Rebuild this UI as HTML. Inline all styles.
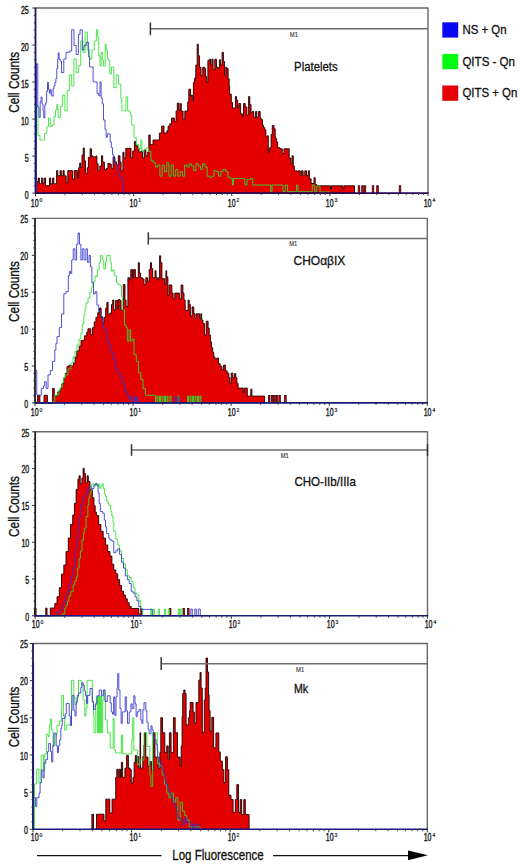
<!DOCTYPE html><html><head><meta charset="utf-8"><style>html,body{margin:0;padding:0;background:#fff;}svg{display:block;}text{font-family:"Liberation Sans",sans-serif;}</style></head><body>
<svg width="520" height="866" viewBox="0 0 520 866">
<rect width="520" height="866" fill="#fff"/>
<path d="M35.5,181.5H38.2V178H39.4V183.8H41.6V178H42.8V183H44.3V178H45.5V185.6H49.5V178H50.7V183.8H52.6V178H53.8V183.8H56.6V170.6H57.8V175.8H60.1V170.6H61.3V175.8H63V170.6H64.2V175.8H66.2V182.7H67.8V170.6H72.4V179.2H74.2V170.6H77.4V178H78.6V167.7H79.7V163H80.9V167.7H82V155H83.2V148H84.3V160.8H85.5V173.4H87.2V167.7H88.4V157.3H90.1V148.8H91.5V155.8H92.9V156.9H95.8V156H96.9V163.8H98.1V170.8H99.8V166H101.5V155.8H102.7V162H104.4V169.6H106.1V168.5H107.9V163.3H109.6V164H111.3V168.4H113.1V156.9H114.8V162H116.5V165H118.3V155.8H120V162H121.1V170.8H122.9V152.3H124V158H125.8V148.3H131V158H132.7V151.1H134.4V141.3H135.6V145.4H137.3V147.7H139V152.3H140.8V151H142.5V158H144.2V150H145.9V155.8H147.7V152H148.8V135H150.2V144.6H153V140H159.4V133H161.7V126.1H164V133H166.9V130.7H168.1V126.1H169.8V123.8H171.5V118.1H174.4V121.5H176.1V111.1H177.3V103.1H179V110H180.2V103.6H181.3V111.1H183.1V119.2H184.8V111.1H187.7V101.9H188.8V89.2H190.6V96.1H191.7V95H192.3V100.8H193.4V82.3H194.6V78H195.8V65H197.2V44.2H198.3V55.8H199.5V67.3H201V75.4H202.7V67.3H204.4V68.4H205.6V76.5H206.7V82.3H207.9V60.4H209.6V59.2H210.5V65H211.9V59.2H213.1V69.6H214.8V59.2H216.5V67.3H218.3V68.4H219.4V59.8H220.6V65H222.1V52.3H223.4V61.5H224.6V75.4H225.8V67.3H226.9V68.4H228.1V78.8H229.2V85.8H229.6V94.2H231.3V102.3H232.5V108H235.4V96.5H236.5V100H237.7V108H238.8V103.5H240.6V113.8H242.3V116.1H243.5V103.5H245.2V106.9H246.9V115H248.6V96.5H249.8V104.6H251V112.7H252.1V111.5H253.8V117.3H255.6V111.5H256.7V117.3H258.4V111.5H260.2V118.5H261.3V119.6H262.5V125.4H263.6V127.7H264.8V130H265.9V136.9H267.1V135.8H268.3V152.3H269.6V147.7H271.1V134.6H272.3V125.4H274V128.8H275.2V135.8H275.4V138.5H276.5V141.9H277.7V147.7H280V148.8H282.3V153.5H284V148.8H289.2V158.1H291V163.8H292.1V155.8H293.3V166.1H294.4V170.8H297.3V171.9H298.4V170.8H300.2V175.4H301.3V170.8H303.1V175.4H304.8V170.8H306.5V175.4H308.3V170.8H309.4V178.8H311.1V183.5H314V177.7H315.2V184.6H316.9V185.8H330.5V185.8H330.5V189H331.5V185.8H342.8V185.8H342.8V189H343.8V185.8H354V185.8H354.5V193.5V193.1H35.5Z" fill="#e30000" stroke="#1e0000" stroke-width="0.9" stroke-linejoin="miter"/>
<rect x="358.2" y="185.7" width="1.6" height="7.4" fill="#e30000" stroke="#1e0000" stroke-width="0.7"/>
<rect x="361.7" y="185.7" width="1.6" height="7.4" fill="#e30000" stroke="#1e0000" stroke-width="0.7"/>
<rect x="364.2" y="185.7" width="1.6" height="7.4" fill="#e30000" stroke="#1e0000" stroke-width="0.7"/>
<rect x="372.2" y="185.7" width="1.6" height="7.4" fill="#e30000" stroke="#1e0000" stroke-width="0.7"/>
<rect x="376.7" y="185.7" width="1.6" height="7.4" fill="#e30000" stroke="#1e0000" stroke-width="0.7"/>
<rect x="399.2" y="185.7" width="1.6" height="7.4" fill="#e30000" stroke="#1e0000" stroke-width="0.7"/>
<path d="M36.5,193.5H36.5V105H37.4V105H37.9V135.6H40V140H42.4V140H44.6V133.4H46.9V126.6H48.5V118.3H50.3V126.6H52V125H54V116.5H55.5V110H56.8V104.5H57.7V110H58.2V117.6H60.4V106.4H62.7V95H64.9V110.9H67.2V90.6H69.4V74.8H71.7V86H73.9V59H76.2V72.6H78.4V65.8H80.7V41H82.9V52.3H85.2V32H87.4V50H89.7V59H91.9V50H94.2V41H96.4V29.8H97.7V37H98.8V55.8H100V66.1H101.1V52.3H102.3V60H103.4V66.1H105.2V44.2H106.3V50H107.5V58H108V60H109.8V73.8H111.5V67H113.8V87.7H116.1V75H118.5V84.2H120.8V98.1H121.9V110.8H126V96.9H127.7V110.8H129.4V112H130.6V115.4H131.7V125H134V137.9H136.3V144.6H138.5V149H140.8V140H141.9V151.4H144.1V149H146.4V148H148.6V151.4H150.9V160.4H153.2V162.7H155.4V167H157.7V165H159.9V176.2H162.2V165H164.4V171.7H166.7V162.7H168.9V176.2H171.2V165H173.4V176.2H175.7V169.4H177.9V176.2H180.2V171.7H182.4V176.2H184.7V165H186.9V167H189.2V163.8H191.4V166H193.7V170.5H195.9V163.8H198.2V166H200.4V169.4H202.7V163.8H205V167H207.2V176.2H209.5V177.3H211.7V176.2H214V170.5H216.2V171.7H218.5V176.2H220.7V171.7H223V169.4H225.6V171.7H227.9V177.3H230.1V178.4H232.4V185H233.5V178.4H242.5V178.4H244.8V185H247V179.6H250.4V178.4H252.7V185H268V185H270.7V191.7H272V185H281V185H283V191.7H285.3V185H287.6V191.7H296V191.7H296.6V185H298V191.7H310V191.7H312.3V185H314.6V191.7H316.8V186H320V192H330V193.5" fill="none" stroke="#2fe02f" stroke-width="1" stroke-opacity="0.85"/>
<path d="M36.5,193.5H36.5V63.8H37.8V63.8H37.8V107H39V117.4H40.2V101.7H41.1V97H42V104H43V111H43.8V118H44.8V105H45.7V102.6H46.6V91.5H47.5V82.3H48.5V89.7H49.4V93.4H50.3V89.7H51.2V95.2H52.2V96.2H53.1V88.8H54V86H54.9V82.3H55.9V78.6H56.8V68.5H57.7V59.2H58.2V52.8H59.1V59.2H60.4V61.3H61.5V72.6H63.8V59H66V52.3H69.4V51H71.7V29.8H74V45.5H76.2V54.5H78.4V34.3H80V29.8H82.3V50H84V45.5H86.3V42.2H88.6V56.8H89.6V67H91.3V67H93.1V81.9H96V81.9H97.1V93.5H98.8V95.8H100V81.9H101.1V98.1H102.3V103.8H103.5V120H105V129.2H106.1V137.3H107.3V133.8H109V134H110.2V141.9H111.3V147.7H112.5V154.6H113.6V159.2H114.8V163.8H116.5V165H117.7V170.8H118.8V175.4H120V177.7H122.3V180H123.4V190.4H124V193.1" fill="none" stroke="#3434cc" stroke-width="1" stroke-opacity="0.85"/>
<path d="M35.5,8H428V193.1" fill="none" stroke="#6a6a6a" stroke-width="1.4"/>
<line x1="35.5" y1="7.5" x2="35.5" y2="193.9" stroke="#15156a" stroke-width="1.8"/>
<line x1="35.5" y1="193.1" x2="428.7" y2="193.1" stroke="#2a0a5a" stroke-width="1.6"/>
<line x1="32.3" y1="193.1" x2="35.5" y2="193.1" stroke="#333" stroke-width="1"/>
<text x="28.7" y="199.4" font-size="10" text-anchor="end" textLength="3.9" lengthAdjust="spacingAndGlyphs" fill="#1a1a1a" stroke="#1a1a1a" stroke-width="0.4">0</text>
<line x1="33.9" y1="185.7" x2="35.5" y2="185.7" stroke="#333" stroke-width="1"/>
<line x1="33.9" y1="178.29" x2="35.5" y2="178.29" stroke="#333" stroke-width="1"/>
<line x1="33.9" y1="170.89" x2="35.5" y2="170.89" stroke="#333" stroke-width="1"/>
<line x1="33.9" y1="163.48" x2="35.5" y2="163.48" stroke="#333" stroke-width="1"/>
<line x1="32.3" y1="156.08" x2="35.5" y2="156.08" stroke="#333" stroke-width="1"/>
<text x="28.7" y="162.38" font-size="10" text-anchor="end" textLength="3.9" lengthAdjust="spacingAndGlyphs" fill="#1a1a1a" stroke="#1a1a1a" stroke-width="0.4">5</text>
<line x1="33.9" y1="148.68" x2="35.5" y2="148.68" stroke="#333" stroke-width="1"/>
<line x1="33.9" y1="141.27" x2="35.5" y2="141.27" stroke="#333" stroke-width="1"/>
<line x1="33.9" y1="133.87" x2="35.5" y2="133.87" stroke="#333" stroke-width="1"/>
<line x1="33.9" y1="126.46" x2="35.5" y2="126.46" stroke="#333" stroke-width="1"/>
<line x1="32.3" y1="119.06" x2="35.5" y2="119.06" stroke="#333" stroke-width="1"/>
<text x="28.7" y="125.36" font-size="10" text-anchor="end" textLength="7.8" lengthAdjust="spacingAndGlyphs" fill="#1a1a1a" stroke="#1a1a1a" stroke-width="0.4">10</text>
<line x1="33.9" y1="111.66" x2="35.5" y2="111.66" stroke="#333" stroke-width="1"/>
<line x1="33.9" y1="104.25" x2="35.5" y2="104.25" stroke="#333" stroke-width="1"/>
<line x1="33.9" y1="96.85" x2="35.5" y2="96.85" stroke="#333" stroke-width="1"/>
<line x1="33.9" y1="89.44" x2="35.5" y2="89.44" stroke="#333" stroke-width="1"/>
<line x1="32.3" y1="82.04" x2="35.5" y2="82.04" stroke="#333" stroke-width="1"/>
<text x="28.7" y="88.34" font-size="10" text-anchor="end" textLength="7.8" lengthAdjust="spacingAndGlyphs" fill="#1a1a1a" stroke="#1a1a1a" stroke-width="0.4">15</text>
<line x1="33.9" y1="74.64" x2="35.5" y2="74.64" stroke="#333" stroke-width="1"/>
<line x1="33.9" y1="67.23" x2="35.5" y2="67.23" stroke="#333" stroke-width="1"/>
<line x1="33.9" y1="59.83" x2="35.5" y2="59.83" stroke="#333" stroke-width="1"/>
<line x1="33.9" y1="52.42" x2="35.5" y2="52.42" stroke="#333" stroke-width="1"/>
<line x1="32.3" y1="45.02" x2="35.5" y2="45.02" stroke="#333" stroke-width="1"/>
<text x="28.7" y="51.32" font-size="10" text-anchor="end" textLength="7.8" lengthAdjust="spacingAndGlyphs" fill="#1a1a1a" stroke="#1a1a1a" stroke-width="0.4">20</text>
<line x1="33.9" y1="37.62" x2="35.5" y2="37.62" stroke="#333" stroke-width="1"/>
<line x1="33.9" y1="30.21" x2="35.5" y2="30.21" stroke="#333" stroke-width="1"/>
<line x1="33.9" y1="22.81" x2="35.5" y2="22.81" stroke="#333" stroke-width="1"/>
<line x1="33.9" y1="15.4" x2="35.5" y2="15.4" stroke="#333" stroke-width="1"/>
<line x1="32.3" y1="8" x2="35.5" y2="8" stroke="#333" stroke-width="1"/>
<text x="28.7" y="14.3" font-size="10" text-anchor="end" textLength="7.8" lengthAdjust="spacingAndGlyphs" fill="#1a1a1a" stroke="#1a1a1a" stroke-width="0.4">25</text>
<line x1="65.04" y1="193.1" x2="65.04" y2="195.1" stroke="#333" stroke-width="0.9"/>
<line x1="82.32" y1="193.1" x2="82.32" y2="195.1" stroke="#333" stroke-width="0.9"/>
<line x1="94.58" y1="193.1" x2="94.58" y2="195.1" stroke="#333" stroke-width="0.9"/>
<line x1="104.09" y1="193.1" x2="104.09" y2="195.1" stroke="#333" stroke-width="0.9"/>
<line x1="111.86" y1="193.1" x2="111.86" y2="195.1" stroke="#333" stroke-width="0.9"/>
<line x1="118.43" y1="193.1" x2="118.43" y2="195.1" stroke="#333" stroke-width="0.9"/>
<line x1="124.12" y1="193.1" x2="124.12" y2="195.1" stroke="#333" stroke-width="0.9"/>
<line x1="129.14" y1="193.1" x2="129.14" y2="195.1" stroke="#333" stroke-width="0.9"/>
<line x1="163.16" y1="193.1" x2="163.16" y2="195.1" stroke="#333" stroke-width="0.9"/>
<line x1="180.44" y1="193.1" x2="180.44" y2="195.1" stroke="#333" stroke-width="0.9"/>
<line x1="192.7" y1="193.1" x2="192.7" y2="195.1" stroke="#333" stroke-width="0.9"/>
<line x1="202.21" y1="193.1" x2="202.21" y2="195.1" stroke="#333" stroke-width="0.9"/>
<line x1="209.98" y1="193.1" x2="209.98" y2="195.1" stroke="#333" stroke-width="0.9"/>
<line x1="216.55" y1="193.1" x2="216.55" y2="195.1" stroke="#333" stroke-width="0.9"/>
<line x1="222.24" y1="193.1" x2="222.24" y2="195.1" stroke="#333" stroke-width="0.9"/>
<line x1="227.26" y1="193.1" x2="227.26" y2="195.1" stroke="#333" stroke-width="0.9"/>
<line x1="261.29" y1="193.1" x2="261.29" y2="195.1" stroke="#333" stroke-width="0.9"/>
<line x1="278.57" y1="193.1" x2="278.57" y2="195.1" stroke="#333" stroke-width="0.9"/>
<line x1="290.83" y1="193.1" x2="290.83" y2="195.1" stroke="#333" stroke-width="0.9"/>
<line x1="300.34" y1="193.1" x2="300.34" y2="195.1" stroke="#333" stroke-width="0.9"/>
<line x1="308.11" y1="193.1" x2="308.11" y2="195.1" stroke="#333" stroke-width="0.9"/>
<line x1="314.68" y1="193.1" x2="314.68" y2="195.1" stroke="#333" stroke-width="0.9"/>
<line x1="320.37" y1="193.1" x2="320.37" y2="195.1" stroke="#333" stroke-width="0.9"/>
<line x1="325.39" y1="193.1" x2="325.39" y2="195.1" stroke="#333" stroke-width="0.9"/>
<line x1="359.41" y1="193.1" x2="359.41" y2="195.1" stroke="#333" stroke-width="0.9"/>
<line x1="376.69" y1="193.1" x2="376.69" y2="195.1" stroke="#333" stroke-width="0.9"/>
<line x1="388.95" y1="193.1" x2="388.95" y2="195.1" stroke="#333" stroke-width="0.9"/>
<line x1="398.46" y1="193.1" x2="398.46" y2="195.1" stroke="#333" stroke-width="0.9"/>
<line x1="406.23" y1="193.1" x2="406.23" y2="195.1" stroke="#333" stroke-width="0.9"/>
<line x1="412.8" y1="193.1" x2="412.8" y2="195.1" stroke="#333" stroke-width="0.9"/>
<line x1="418.49" y1="193.1" x2="418.49" y2="195.1" stroke="#333" stroke-width="0.9"/>
<line x1="423.51" y1="193.1" x2="423.51" y2="195.1" stroke="#333" stroke-width="0.9"/>
<line x1="35.5" y1="193.1" x2="35.5" y2="196.1" stroke="#333" stroke-width="1"/>
<text x="30.8" y="206.8" font-size="10" textLength="7.8" lengthAdjust="spacingAndGlyphs" fill="#1a1a1a" stroke="#1a1a1a" stroke-width="0.4">10</text>
<text x="39.5" y="202.4" font-size="5" fill="#222" stroke="#222" stroke-width="0.2">0</text>
<line x1="133.62" y1="193.1" x2="133.62" y2="196.1" stroke="#333" stroke-width="1"/>
<text x="129.6" y="206.8" font-size="10" textLength="7.8" lengthAdjust="spacingAndGlyphs" fill="#1a1a1a" stroke="#1a1a1a" stroke-width="0.4">10</text>
<text x="138.3" y="202.4" font-size="5" fill="#222" stroke="#222" stroke-width="0.2">1</text>
<line x1="231.75" y1="193.1" x2="231.75" y2="196.1" stroke="#333" stroke-width="1"/>
<text x="227.8" y="206.8" font-size="10" textLength="7.8" lengthAdjust="spacingAndGlyphs" fill="#1a1a1a" stroke="#1a1a1a" stroke-width="0.4">10</text>
<text x="236.5" y="202.4" font-size="5" fill="#222" stroke="#222" stroke-width="0.2">2</text>
<line x1="329.88" y1="193.1" x2="329.88" y2="196.1" stroke="#333" stroke-width="1"/>
<text x="325.8" y="206.8" font-size="10" textLength="7.8" lengthAdjust="spacingAndGlyphs" fill="#1a1a1a" stroke="#1a1a1a" stroke-width="0.4">10</text>
<text x="334.5" y="202.4" font-size="5" fill="#222" stroke="#222" stroke-width="0.2">3</text>
<line x1="428" y1="193.1" x2="428" y2="196.1" stroke="#333" stroke-width="1"/>
<text x="423.7" y="206.8" font-size="10" textLength="7.8" lengthAdjust="spacingAndGlyphs" fill="#1a1a1a" stroke="#1a1a1a" stroke-width="0.4">10</text>
<text x="432.4" y="202.4" font-size="5" fill="#222" stroke="#222" stroke-width="0.2">4</text>
<text transform="translate(19.2,82.24) rotate(-90)" font-size="14.6" text-anchor="middle" textLength="60.8" lengthAdjust="spacingAndGlyphs" fill="#111" stroke="#111" stroke-width="0.35">Cell Counts</text>
<line x1="150.4" y1="28.8" x2="428" y2="28.8" stroke="#6e6e6e" stroke-width="1.5"/>
<line x1="150.4" y1="22.5" x2="150.4" y2="35.2" stroke="#333" stroke-width="1.5"/>
<text x="289.8" y="37.4" font-size="7.6" textLength="8.2" lengthAdjust="spacingAndGlyphs" fill="#333" stroke="#333" stroke-width="0.15">M1</text>
<text x="294.1" y="70.9" font-size="13.2" textLength="43.5" lengthAdjust="spacingAndGlyphs" fill="#111" stroke="#111" stroke-width="0.3">Platelets</text>
<path d="M36.5,403.5H37.6V395.3H39.9V403.5H44V395.3H47.4V403.5H52.6V388.4H54.3V396.4H56.1V395.3H57.8V391.8H60.1V388.4H61.8V383.8H63.6V378H65.3V373.4H67V366.5H68.8V365.3H71.1V365.9H73.4V363H75.1V357.2H76.8V351.5H77.5V350.8H79.2V346.1H81V340.4H84.4V335.8H86.7V332.3H87.9V328.8H90.8V334.6H92.5V327.7H94.2V321.9H95.9V317.3H97.7V312.7H99.4V308.1H101.1V317.3H102.9V323.1H104V317.3H105.7V308.1H106.9V302.3H108.1V315H109.8V313H111.5V304.6H112.7V300H113.8V310H115.6V300.6H117.8V309.6H118.1V299.6H120V300.6H121V310H123.3V284.6H125V300H126.1V306.5H127.9V277.7H129.6V280H130.8V269.6H132.5V277.7H133.6V269.6H135.4V277.7H138.3V262.7H139.4V273.1H140.6V277.7H142.3V279H144V284.6H145.8V277.7H147.5V281.1H149.2V269.6H150.4V262.7H151.5V268.5H152.7V277.7H155V270.8H156.1V277.7H157.3V280H158.4V277.7H159.6V255.8H160.7V262.7H161.9V278.8H164.8V284.6H165.9V270.8H166.7V276.9H167.9V295.4H169V285H171.9V293.1H173.1V298.8H174.8V293.1H179.4V298.8H181.1V285H182.9V293.1H184V300H185.2V310.4H188.1V300H189.2V304.6H190.4V316.1H192.1V306.9H193.8V313.8H195V318.4H196.1V313.8H199.6V318.4H200.8V313.8H201.7V320H202.9V323.5H204.6V335H206.3V321.2H208.1V328.1H209.2V335H210.4V341.9H211.5V347.7H212.7V352.3H213.8V356.9H215V359.2H216.7V358.1H218.5V363.8H220.2V366.1H221.9V369.6H223.6V365H225.4V370.8H227.1V373.1H228.8V377.7H230V383.4H231.2V373.1H232.9V377.7H234.6V373.6H235.8V377.7H236.9V383.4H238.1V388.1H243.3V392.7H244.4V388.1H247.3V396.1H250.8V389.2H251.9V396.1H264.6V403.5V402.9H36.5Z" fill="#e30000" stroke="#1e0000" stroke-width="0.9" stroke-linejoin="miter"/>
<rect x="268.4" y="395.52" width="1.6" height="7.38" fill="#e30000" stroke="#1e0000" stroke-width="0.7"/>
<rect x="271.3" y="395.52" width="1.6" height="7.38" fill="#e30000" stroke="#1e0000" stroke-width="0.7"/>
<rect x="273.6" y="395.52" width="1.6" height="7.38" fill="#e30000" stroke="#1e0000" stroke-width="0.7"/>
<rect x="275.9" y="395.52" width="1.6" height="7.38" fill="#e30000" stroke="#1e0000" stroke-width="0.7"/>
<rect x="278.8" y="395.52" width="1.6" height="7.38" fill="#e30000" stroke="#1e0000" stroke-width="0.7"/>
<rect x="284.6" y="395.52" width="1.6" height="7.38" fill="#e30000" stroke="#1e0000" stroke-width="0.7"/>
<path d="M35,402.9H52V402H54.8V395.2H56.1V395.3H57.8V394H59V389.5H60.7V387.2H62.4V382.6H63.6V378H65.3V374.5H66.5V375H68V369H71V363H73V357H75V351H77V345H79V339H80.8V333H82.3V324H83.8V315H85V309H86V303H88V298H89.8V292.5H91.3V287H92.8V282H95V276H96.9V276.9H97.3V270H99.2V263H100.4V255.6H102.5V260H103.8V268.8H105.5V262H106.7V255.6H109V255.6H110.2V262H111.3V271.2H112.5V270H114.2V275.8H116.5V282.7H118.1V284.6H120.4V285.8H121.5V296.1H122.7V310H124.5V325H126.1V327.6H127.3V341.1H129V329.9H130.6V341.1H132.2V339H134V354.6H136.3V361.4H138.5V372.7H140.8V379.4H143V388.4H145.3V395.2H154.3V395.5H155.5V402.9H157V396H158V402.9H159.5V396H160.5V402.9H162V396H163V402.9H164.5V396H165.5V402.9H167V396H168V402.9H170V396H171V402.9H178V396H179V402.9H187.5V396H188.5V402.9H190V396H191V402.9H192.5V396H193.5V402.9H195V396H196V402.9H197.5V396H198.5V402.9H200V396H201V402.9H225V402.9" fill="none" stroke="#2fe02f" stroke-width="1" stroke-opacity="0.85"/>
<path d="M35,403.5H35V370.4H36V370.4H36.8V395.2H39V395.2H41.3V388.4H43.5V386H44.6V381.7H46.2V388.4H48V374.9H50.3V370.4H52.5V361.4H54.8V350.1H55.9V343.4H57V336.6H59.3V327.6H61.5V314.1H63.8V293.8H66V291.6H68.3V275.8H69.4V271.3H70.5V273.5H71.7V260H73.2V248.8H75V260H76.6V244.3H78V233H79.5V244.3H80.9V260H82.3V248.8H84V260H85.9V248.8H87.4V262.3H89V255.5H90.4V266.8H91.9V282.6H93.5V293.8H95.3V291.6H96.9V305H98.7V311.8H101V316.4H102.5V327.6H104.3V329.9H106.6V341.1H108.8V345.6H111V352.4H113.3V359.1H115.6V368.2H117.8V372.7H120V377.2H122.3V383.9H124.6V390.7H126.8V395.2H129.1V399.7H131V396H132V402.9H134V397H135V402.9H136.5V397H137.5V402.9H175V397H176V402.9H178V397H179V402.9H190V402.9" fill="none" stroke="#3434cc" stroke-width="1" stroke-opacity="0.85"/>
<path d="M35,218.4H427.3V402.9" fill="none" stroke="#6a6a6a" stroke-width="1.4"/>
<line x1="35" y1="217.9" x2="35" y2="403.7" stroke="#222" stroke-width="1.8"/>
<line x1="35" y1="402.9" x2="428" y2="402.9" stroke="#1a1a7a" stroke-width="1.6"/>
<line x1="31.8" y1="402.9" x2="35" y2="402.9" stroke="#333" stroke-width="1"/>
<text x="28.1" y="407.5" font-size="10" text-anchor="end" textLength="3.9" lengthAdjust="spacingAndGlyphs" fill="#1a1a1a" stroke="#1a1a1a" stroke-width="0.4">0</text>
<line x1="33.4" y1="395.52" x2="35" y2="395.52" stroke="#333" stroke-width="1"/>
<line x1="33.4" y1="388.14" x2="35" y2="388.14" stroke="#333" stroke-width="1"/>
<line x1="33.4" y1="380.76" x2="35" y2="380.76" stroke="#333" stroke-width="1"/>
<line x1="33.4" y1="373.38" x2="35" y2="373.38" stroke="#333" stroke-width="1"/>
<line x1="31.8" y1="366" x2="35" y2="366" stroke="#333" stroke-width="1"/>
<text x="28.1" y="370.6" font-size="10" text-anchor="end" textLength="3.9" lengthAdjust="spacingAndGlyphs" fill="#1a1a1a" stroke="#1a1a1a" stroke-width="0.4">5</text>
<line x1="33.4" y1="358.62" x2="35" y2="358.62" stroke="#333" stroke-width="1"/>
<line x1="33.4" y1="351.24" x2="35" y2="351.24" stroke="#333" stroke-width="1"/>
<line x1="33.4" y1="343.86" x2="35" y2="343.86" stroke="#333" stroke-width="1"/>
<line x1="33.4" y1="336.48" x2="35" y2="336.48" stroke="#333" stroke-width="1"/>
<line x1="31.8" y1="329.1" x2="35" y2="329.1" stroke="#333" stroke-width="1"/>
<text x="28.1" y="333.7" font-size="10" text-anchor="end" textLength="7.8" lengthAdjust="spacingAndGlyphs" fill="#1a1a1a" stroke="#1a1a1a" stroke-width="0.4">10</text>
<line x1="33.4" y1="321.72" x2="35" y2="321.72" stroke="#333" stroke-width="1"/>
<line x1="33.4" y1="314.34" x2="35" y2="314.34" stroke="#333" stroke-width="1"/>
<line x1="33.4" y1="306.96" x2="35" y2="306.96" stroke="#333" stroke-width="1"/>
<line x1="33.4" y1="299.58" x2="35" y2="299.58" stroke="#333" stroke-width="1"/>
<line x1="31.8" y1="292.2" x2="35" y2="292.2" stroke="#333" stroke-width="1"/>
<text x="28.1" y="296.8" font-size="10" text-anchor="end" textLength="7.8" lengthAdjust="spacingAndGlyphs" fill="#1a1a1a" stroke="#1a1a1a" stroke-width="0.4">15</text>
<line x1="33.4" y1="284.82" x2="35" y2="284.82" stroke="#333" stroke-width="1"/>
<line x1="33.4" y1="277.44" x2="35" y2="277.44" stroke="#333" stroke-width="1"/>
<line x1="33.4" y1="270.06" x2="35" y2="270.06" stroke="#333" stroke-width="1"/>
<line x1="33.4" y1="262.68" x2="35" y2="262.68" stroke="#333" stroke-width="1"/>
<line x1="31.8" y1="255.3" x2="35" y2="255.3" stroke="#333" stroke-width="1"/>
<text x="28.1" y="259.9" font-size="10" text-anchor="end" textLength="7.8" lengthAdjust="spacingAndGlyphs" fill="#1a1a1a" stroke="#1a1a1a" stroke-width="0.4">20</text>
<line x1="33.4" y1="247.92" x2="35" y2="247.92" stroke="#333" stroke-width="1"/>
<line x1="33.4" y1="240.54" x2="35" y2="240.54" stroke="#333" stroke-width="1"/>
<line x1="33.4" y1="233.16" x2="35" y2="233.16" stroke="#333" stroke-width="1"/>
<line x1="33.4" y1="225.78" x2="35" y2="225.78" stroke="#333" stroke-width="1"/>
<line x1="31.8" y1="218.4" x2="35" y2="218.4" stroke="#333" stroke-width="1"/>
<text x="28.1" y="223" font-size="10" text-anchor="end" textLength="7.8" lengthAdjust="spacingAndGlyphs" fill="#1a1a1a" stroke="#1a1a1a" stroke-width="0.4">25</text>
<line x1="64.52" y1="402.9" x2="64.52" y2="404.9" stroke="#333" stroke-width="0.9"/>
<line x1="81.79" y1="402.9" x2="81.79" y2="404.9" stroke="#333" stroke-width="0.9"/>
<line x1="94.05" y1="402.9" x2="94.05" y2="404.9" stroke="#333" stroke-width="0.9"/>
<line x1="103.55" y1="402.9" x2="103.55" y2="404.9" stroke="#333" stroke-width="0.9"/>
<line x1="111.32" y1="402.9" x2="111.32" y2="404.9" stroke="#333" stroke-width="0.9"/>
<line x1="117.88" y1="402.9" x2="117.88" y2="404.9" stroke="#333" stroke-width="0.9"/>
<line x1="123.57" y1="402.9" x2="123.57" y2="404.9" stroke="#333" stroke-width="0.9"/>
<line x1="128.59" y1="402.9" x2="128.59" y2="404.9" stroke="#333" stroke-width="0.9"/>
<line x1="162.6" y1="402.9" x2="162.6" y2="404.9" stroke="#333" stroke-width="0.9"/>
<line x1="179.87" y1="402.9" x2="179.87" y2="404.9" stroke="#333" stroke-width="0.9"/>
<line x1="192.12" y1="402.9" x2="192.12" y2="404.9" stroke="#333" stroke-width="0.9"/>
<line x1="201.63" y1="402.9" x2="201.63" y2="404.9" stroke="#333" stroke-width="0.9"/>
<line x1="209.39" y1="402.9" x2="209.39" y2="404.9" stroke="#333" stroke-width="0.9"/>
<line x1="215.96" y1="402.9" x2="215.96" y2="404.9" stroke="#333" stroke-width="0.9"/>
<line x1="221.65" y1="402.9" x2="221.65" y2="404.9" stroke="#333" stroke-width="0.9"/>
<line x1="226.66" y1="402.9" x2="226.66" y2="404.9" stroke="#333" stroke-width="0.9"/>
<line x1="260.67" y1="402.9" x2="260.67" y2="404.9" stroke="#333" stroke-width="0.9"/>
<line x1="277.94" y1="402.9" x2="277.94" y2="404.9" stroke="#333" stroke-width="0.9"/>
<line x1="290.2" y1="402.9" x2="290.2" y2="404.9" stroke="#333" stroke-width="0.9"/>
<line x1="299.7" y1="402.9" x2="299.7" y2="404.9" stroke="#333" stroke-width="0.9"/>
<line x1="307.47" y1="402.9" x2="307.47" y2="404.9" stroke="#333" stroke-width="0.9"/>
<line x1="314.03" y1="402.9" x2="314.03" y2="404.9" stroke="#333" stroke-width="0.9"/>
<line x1="319.72" y1="402.9" x2="319.72" y2="404.9" stroke="#333" stroke-width="0.9"/>
<line x1="324.74" y1="402.9" x2="324.74" y2="404.9" stroke="#333" stroke-width="0.9"/>
<line x1="358.75" y1="402.9" x2="358.75" y2="404.9" stroke="#333" stroke-width="0.9"/>
<line x1="376.02" y1="402.9" x2="376.02" y2="404.9" stroke="#333" stroke-width="0.9"/>
<line x1="388.27" y1="402.9" x2="388.27" y2="404.9" stroke="#333" stroke-width="0.9"/>
<line x1="397.78" y1="402.9" x2="397.78" y2="404.9" stroke="#333" stroke-width="0.9"/>
<line x1="405.54" y1="402.9" x2="405.54" y2="404.9" stroke="#333" stroke-width="0.9"/>
<line x1="412.11" y1="402.9" x2="412.11" y2="404.9" stroke="#333" stroke-width="0.9"/>
<line x1="417.8" y1="402.9" x2="417.8" y2="404.9" stroke="#333" stroke-width="0.9"/>
<line x1="422.81" y1="402.9" x2="422.81" y2="404.9" stroke="#333" stroke-width="0.9"/>
<line x1="35" y1="402.9" x2="35" y2="405.9" stroke="#333" stroke-width="1"/>
<text x="30.8" y="415.9" font-size="10" textLength="7.8" lengthAdjust="spacingAndGlyphs" fill="#1a1a1a" stroke="#1a1a1a" stroke-width="0.4">10</text>
<text x="39.5" y="411.5" font-size="5" fill="#222" stroke="#222" stroke-width="0.2">0</text>
<line x1="133.07" y1="402.9" x2="133.07" y2="405.9" stroke="#333" stroke-width="1"/>
<text x="129.6" y="415.9" font-size="10" textLength="7.8" lengthAdjust="spacingAndGlyphs" fill="#1a1a1a" stroke="#1a1a1a" stroke-width="0.4">10</text>
<text x="138.3" y="411.5" font-size="5" fill="#222" stroke="#222" stroke-width="0.2">1</text>
<line x1="231.15" y1="402.9" x2="231.15" y2="405.9" stroke="#333" stroke-width="1"/>
<text x="227.8" y="415.9" font-size="10" textLength="7.8" lengthAdjust="spacingAndGlyphs" fill="#1a1a1a" stroke="#1a1a1a" stroke-width="0.4">10</text>
<text x="236.5" y="411.5" font-size="5" fill="#222" stroke="#222" stroke-width="0.2">2</text>
<line x1="329.23" y1="402.9" x2="329.23" y2="405.9" stroke="#333" stroke-width="1"/>
<text x="325.8" y="415.9" font-size="10" textLength="7.8" lengthAdjust="spacingAndGlyphs" fill="#1a1a1a" stroke="#1a1a1a" stroke-width="0.4">10</text>
<text x="334.5" y="411.5" font-size="5" fill="#222" stroke="#222" stroke-width="0.2">3</text>
<line x1="427.3" y1="402.9" x2="427.3" y2="405.9" stroke="#333" stroke-width="1"/>
<text x="423.7" y="415.9" font-size="10" textLength="7.8" lengthAdjust="spacingAndGlyphs" fill="#1a1a1a" stroke="#1a1a1a" stroke-width="0.4">10</text>
<text x="432.4" y="411.5" font-size="5" fill="#222" stroke="#222" stroke-width="0.2">4</text>
<text transform="translate(19.2,291.5) rotate(-90)" font-size="14.6" text-anchor="middle" textLength="60.8" lengthAdjust="spacingAndGlyphs" fill="#111" stroke="#111" stroke-width="0.35">Cell Counts</text>
<line x1="148.3" y1="238.5" x2="427.3" y2="238.5" stroke="#6e6e6e" stroke-width="1.5"/>
<line x1="148.3" y1="232.3" x2="148.3" y2="244.6" stroke="#333" stroke-width="1.5"/>
<text x="289.2" y="246.4" font-size="7.6" textLength="8.2" lengthAdjust="spacingAndGlyphs" fill="#333" stroke="#333" stroke-width="0.15">M1</text>
<text x="293.5" y="265.3" font-size="13.2" textLength="51.8" lengthAdjust="spacingAndGlyphs" fill="#111" stroke="#111" stroke-width="0.3">CHOαβIX</text>
<path d="M34,615.8H34.5V608H35.5V608H36V615.8H45.3V615.8H45.8V608H46.5V608H47V615.8H50V615.8H50.3V608H52.5V608H54.8V603.4H57V596.7H59.3V587.7H61.5V574.1H63.8V565.1H66V551.6H68.3V538.1H70.5V524.6H72.7V515H74.4V503.4H76.1V489.6H77.9V479.2H79V475.8H80.2V483.8H81.9V478.1H83.1V468.3H84.2V473.5H85.4V482.7H87.1V475.8H88.3V481.5H90V489.6H92.3V497.7H94V505.8H95.2V512H96.4V515.6H98.7V524.6H100.9V531.4H103.2V538.1H105.5V544.9H107.7V551.6H110V556.1H111.9V564.2H113.8V570H115.8V573.8H117.7V579.6H119.6V585.4H121.5V591.2H123.5V595H125.4V598.8H127.3V602.7H129.2V606.5H131.2V608.5H136.9V608.5H138.8V614.2H140.3V614.2H140.8V608.5H141.5V608.5H142V615.8V615.8H34Z" fill="#e30000" stroke="#1e0000" stroke-width="0.9" stroke-linejoin="miter"/>
<rect x="169.4" y="608.44" width="1.6" height="7.36" fill="#e30000" stroke="#1e0000" stroke-width="0.7"/>
<rect x="183" y="608.44" width="1.6" height="7.36" fill="#e30000" stroke="#1e0000" stroke-width="0.7"/>
<rect x="187.5" y="608.44" width="1.6" height="7.36" fill="#e30000" stroke="#1e0000" stroke-width="0.7"/>
<path d="M55,615.8H60.5V615.8H62V613.9H64.8V608.3H66V605H67.5V601H69V596H70.8V591.7H73.1V585.2H74.7V581H76.3V577H77.7V568H79.1V558.5H80.4V551.1H82V540H83.5V533H84.4V528.1H86.1V516.5H87.9V505H88.8V497.7H90V493.1H91.1V485H92.3V483.8H94V486.1H95.2V483.8H96.9V486.1H98.7V483.8H99.8V488.4H100.9V486.1H102.1V483.8H103.3V488.4H104.4V494.2H105.6V496.5H106.7V501.1H107.9V503.4H109V505.8H110.8V511.5H111.9V516H113V523H113.8V531.5H115.8V539.2H117.7V545H119.6V550.8H121.5V558.5H123.5V564.2H125.4V570H127.3V575.8H129.2V577.7H131.2V581.5H133.1V587.3H135V593.1H136.9V595H138.8V600.8H140.8V608.5H142.7V615.8H150.7V609H151.9V615.8H153.2V609H154.4V615.8H158.2V609H159.4V615.8H164.4V609H165.6V615.8H168.2V609H169.4V615.8H178.2V609H179.4V615.8H180.7V609H181.9V615.8H190V615.8" fill="none" stroke="#2fe02f" stroke-width="1" stroke-opacity="0.85"/>
<path d="M35,615.8H56V615.8H56.9V612H60.2V609.3H62.2V605H64.3V601H65.7V596H67.1V591.7H69V584H70.8V577H72.6V568H74.5V558.5H75.7V549H76.8V540H78V530H79.2V516.5H81V505H83.1V497.7H84.8V495.4H86.5V490.8H88.3V491H89.4V486.1H91.1V488.4H94V485H95.8V483.3H96.9V485H98.1V493.1H99.2V503.4H100.4V511.5H102.7V513.3H104.3V520.1H105.5V527H106.6V533.6H108.8V538.1H110V540H111.9V541.2H113.8V552.7H115.8V550.8H117.7V548.8H119.6V554.6H121.5V562.3H123.5V568.1H125.4V575.8H127.3V579.6H129.2V583.5H131.2V591.2H133.1V593.1H135V596.9H136.9V600.8H138.8V606.5H140.8V609.4H150.4V609.4H152.3V615.8H190.5V615.8H190.8V609H192V609H192.3V615.8H194.5V615.8H194.8V609H196V609H196.3V615.8H198V615.8H198.3V609H200V609H200.3V615.8H210V615.8" fill="none" stroke="#3434cc" stroke-width="1" stroke-opacity="0.85"/>
<path d="M35.2,431.8H427.5V615.8" fill="none" stroke="#6a6a6a" stroke-width="1.4"/>
<line x1="35.2" y1="431.3" x2="35.2" y2="616.6" stroke="#222" stroke-width="1.8"/>
<line x1="35.2" y1="615.8" x2="428.2" y2="615.8" stroke="#1a1a7a" stroke-width="1.6"/>
<line x1="32" y1="615.8" x2="35.2" y2="615.8" stroke="#333" stroke-width="1"/>
<text x="29.2" y="620.6" font-size="10" text-anchor="end" textLength="3.9" lengthAdjust="spacingAndGlyphs" fill="#1a1a1a" stroke="#1a1a1a" stroke-width="0.4">0</text>
<line x1="33.6" y1="608.44" x2="35.2" y2="608.44" stroke="#333" stroke-width="1"/>
<line x1="33.6" y1="601.08" x2="35.2" y2="601.08" stroke="#333" stroke-width="1"/>
<line x1="33.6" y1="593.72" x2="35.2" y2="593.72" stroke="#333" stroke-width="1"/>
<line x1="33.6" y1="586.36" x2="35.2" y2="586.36" stroke="#333" stroke-width="1"/>
<line x1="32" y1="579" x2="35.2" y2="579" stroke="#333" stroke-width="1"/>
<text x="29.2" y="583.8" font-size="10" text-anchor="end" textLength="3.9" lengthAdjust="spacingAndGlyphs" fill="#1a1a1a" stroke="#1a1a1a" stroke-width="0.4">5</text>
<line x1="33.6" y1="571.64" x2="35.2" y2="571.64" stroke="#333" stroke-width="1"/>
<line x1="33.6" y1="564.28" x2="35.2" y2="564.28" stroke="#333" stroke-width="1"/>
<line x1="33.6" y1="556.92" x2="35.2" y2="556.92" stroke="#333" stroke-width="1"/>
<line x1="33.6" y1="549.56" x2="35.2" y2="549.56" stroke="#333" stroke-width="1"/>
<line x1="32" y1="542.2" x2="35.2" y2="542.2" stroke="#333" stroke-width="1"/>
<text x="29.2" y="547" font-size="10" text-anchor="end" textLength="7.8" lengthAdjust="spacingAndGlyphs" fill="#1a1a1a" stroke="#1a1a1a" stroke-width="0.4">10</text>
<line x1="33.6" y1="534.84" x2="35.2" y2="534.84" stroke="#333" stroke-width="1"/>
<line x1="33.6" y1="527.48" x2="35.2" y2="527.48" stroke="#333" stroke-width="1"/>
<line x1="33.6" y1="520.12" x2="35.2" y2="520.12" stroke="#333" stroke-width="1"/>
<line x1="33.6" y1="512.76" x2="35.2" y2="512.76" stroke="#333" stroke-width="1"/>
<line x1="32" y1="505.4" x2="35.2" y2="505.4" stroke="#333" stroke-width="1"/>
<text x="29.2" y="510.2" font-size="10" text-anchor="end" textLength="7.8" lengthAdjust="spacingAndGlyphs" fill="#1a1a1a" stroke="#1a1a1a" stroke-width="0.4">15</text>
<line x1="33.6" y1="498.04" x2="35.2" y2="498.04" stroke="#333" stroke-width="1"/>
<line x1="33.6" y1="490.68" x2="35.2" y2="490.68" stroke="#333" stroke-width="1"/>
<line x1="33.6" y1="483.32" x2="35.2" y2="483.32" stroke="#333" stroke-width="1"/>
<line x1="33.6" y1="475.96" x2="35.2" y2="475.96" stroke="#333" stroke-width="1"/>
<line x1="32" y1="468.6" x2="35.2" y2="468.6" stroke="#333" stroke-width="1"/>
<text x="29.2" y="473.4" font-size="10" text-anchor="end" textLength="7.8" lengthAdjust="spacingAndGlyphs" fill="#1a1a1a" stroke="#1a1a1a" stroke-width="0.4">20</text>
<line x1="33.6" y1="461.24" x2="35.2" y2="461.24" stroke="#333" stroke-width="1"/>
<line x1="33.6" y1="453.88" x2="35.2" y2="453.88" stroke="#333" stroke-width="1"/>
<line x1="33.6" y1="446.52" x2="35.2" y2="446.52" stroke="#333" stroke-width="1"/>
<line x1="33.6" y1="439.16" x2="35.2" y2="439.16" stroke="#333" stroke-width="1"/>
<line x1="32" y1="431.8" x2="35.2" y2="431.8" stroke="#333" stroke-width="1"/>
<text x="29.2" y="436.6" font-size="10" text-anchor="end" textLength="7.8" lengthAdjust="spacingAndGlyphs" fill="#1a1a1a" stroke="#1a1a1a" stroke-width="0.4">25</text>
<line x1="64.72" y1="615.8" x2="64.72" y2="617.8" stroke="#333" stroke-width="0.9"/>
<line x1="81.99" y1="615.8" x2="81.99" y2="617.8" stroke="#333" stroke-width="0.9"/>
<line x1="94.25" y1="615.8" x2="94.25" y2="617.8" stroke="#333" stroke-width="0.9"/>
<line x1="103.75" y1="615.8" x2="103.75" y2="617.8" stroke="#333" stroke-width="0.9"/>
<line x1="111.52" y1="615.8" x2="111.52" y2="617.8" stroke="#333" stroke-width="0.9"/>
<line x1="118.08" y1="615.8" x2="118.08" y2="617.8" stroke="#333" stroke-width="0.9"/>
<line x1="123.77" y1="615.8" x2="123.77" y2="617.8" stroke="#333" stroke-width="0.9"/>
<line x1="128.79" y1="615.8" x2="128.79" y2="617.8" stroke="#333" stroke-width="0.9"/>
<line x1="162.8" y1="615.8" x2="162.8" y2="617.8" stroke="#333" stroke-width="0.9"/>
<line x1="180.07" y1="615.8" x2="180.07" y2="617.8" stroke="#333" stroke-width="0.9"/>
<line x1="192.32" y1="615.8" x2="192.32" y2="617.8" stroke="#333" stroke-width="0.9"/>
<line x1="201.83" y1="615.8" x2="201.83" y2="617.8" stroke="#333" stroke-width="0.9"/>
<line x1="209.59" y1="615.8" x2="209.59" y2="617.8" stroke="#333" stroke-width="0.9"/>
<line x1="216.16" y1="615.8" x2="216.16" y2="617.8" stroke="#333" stroke-width="0.9"/>
<line x1="221.85" y1="615.8" x2="221.85" y2="617.8" stroke="#333" stroke-width="0.9"/>
<line x1="226.86" y1="615.8" x2="226.86" y2="617.8" stroke="#333" stroke-width="0.9"/>
<line x1="260.87" y1="615.8" x2="260.87" y2="617.8" stroke="#333" stroke-width="0.9"/>
<line x1="278.14" y1="615.8" x2="278.14" y2="617.8" stroke="#333" stroke-width="0.9"/>
<line x1="290.4" y1="615.8" x2="290.4" y2="617.8" stroke="#333" stroke-width="0.9"/>
<line x1="299.9" y1="615.8" x2="299.9" y2="617.8" stroke="#333" stroke-width="0.9"/>
<line x1="307.67" y1="615.8" x2="307.67" y2="617.8" stroke="#333" stroke-width="0.9"/>
<line x1="314.23" y1="615.8" x2="314.23" y2="617.8" stroke="#333" stroke-width="0.9"/>
<line x1="319.92" y1="615.8" x2="319.92" y2="617.8" stroke="#333" stroke-width="0.9"/>
<line x1="324.94" y1="615.8" x2="324.94" y2="617.8" stroke="#333" stroke-width="0.9"/>
<line x1="358.95" y1="615.8" x2="358.95" y2="617.8" stroke="#333" stroke-width="0.9"/>
<line x1="376.22" y1="615.8" x2="376.22" y2="617.8" stroke="#333" stroke-width="0.9"/>
<line x1="388.47" y1="615.8" x2="388.47" y2="617.8" stroke="#333" stroke-width="0.9"/>
<line x1="397.98" y1="615.8" x2="397.98" y2="617.8" stroke="#333" stroke-width="0.9"/>
<line x1="405.74" y1="615.8" x2="405.74" y2="617.8" stroke="#333" stroke-width="0.9"/>
<line x1="412.31" y1="615.8" x2="412.31" y2="617.8" stroke="#333" stroke-width="0.9"/>
<line x1="418" y1="615.8" x2="418" y2="617.8" stroke="#333" stroke-width="0.9"/>
<line x1="423.01" y1="615.8" x2="423.01" y2="617.8" stroke="#333" stroke-width="0.9"/>
<line x1="35.2" y1="615.8" x2="35.2" y2="618.8" stroke="#333" stroke-width="1"/>
<text x="31.8" y="628.2" font-size="10" textLength="7.8" lengthAdjust="spacingAndGlyphs" fill="#1a1a1a" stroke="#1a1a1a" stroke-width="0.4">10</text>
<text x="40.5" y="623.8" font-size="5" fill="#222" stroke="#222" stroke-width="0.2">0</text>
<line x1="133.28" y1="615.8" x2="133.28" y2="618.8" stroke="#333" stroke-width="1"/>
<text x="130.6" y="628.2" font-size="10" textLength="7.8" lengthAdjust="spacingAndGlyphs" fill="#1a1a1a" stroke="#1a1a1a" stroke-width="0.4">10</text>
<text x="139.3" y="623.8" font-size="5" fill="#222" stroke="#222" stroke-width="0.2">1</text>
<line x1="231.35" y1="615.8" x2="231.35" y2="618.8" stroke="#333" stroke-width="1"/>
<text x="228.8" y="628.2" font-size="10" textLength="7.8" lengthAdjust="spacingAndGlyphs" fill="#1a1a1a" stroke="#1a1a1a" stroke-width="0.4">10</text>
<text x="237.5" y="623.8" font-size="5" fill="#222" stroke="#222" stroke-width="0.2">2</text>
<line x1="329.43" y1="615.8" x2="329.43" y2="618.8" stroke="#333" stroke-width="1"/>
<text x="326.8" y="628.2" font-size="10" textLength="7.8" lengthAdjust="spacingAndGlyphs" fill="#1a1a1a" stroke="#1a1a1a" stroke-width="0.4">10</text>
<text x="335.5" y="623.8" font-size="5" fill="#222" stroke="#222" stroke-width="0.2">3</text>
<line x1="427.5" y1="615.8" x2="427.5" y2="618.8" stroke="#333" stroke-width="1"/>
<text x="424.7" y="628.2" font-size="10" textLength="7.8" lengthAdjust="spacingAndGlyphs" fill="#1a1a1a" stroke="#1a1a1a" stroke-width="0.4">10</text>
<text x="433.4" y="623.8" font-size="5" fill="#222" stroke="#222" stroke-width="0.2">4</text>
<text transform="translate(19.2,506.5) rotate(-90)" font-size="14.6" text-anchor="middle" textLength="60.8" lengthAdjust="spacingAndGlyphs" fill="#111" stroke="#111" stroke-width="0.35">Cell Counts</text>
<line x1="131.5" y1="450" x2="427.5" y2="450" stroke="#6e6e6e" stroke-width="1.5"/>
<line x1="131.5" y1="444.2" x2="131.5" y2="455.8" stroke="#333" stroke-width="1.5"/>
<line x1="427.5" y1="444.2" x2="427.5" y2="455.8" stroke="#333" stroke-width="1.5"/>
<text x="280.7" y="457.6" font-size="7.6" textLength="8.2" lengthAdjust="spacingAndGlyphs" fill="#333" stroke="#333" stroke-width="0.15">M1</text>
<text x="294.4" y="486.4" font-size="13.2" textLength="61.6" lengthAdjust="spacingAndGlyphs" fill="#111" stroke="#111" stroke-width="0.3">CHO-IIb/IIIa</text>
<path d="M91.5,829.5H91.9V814.2H93.5V829.5H96.5V814.2H104V821H105.8V799.2H109.8V813H112.1V799.2H115.7V777.3H116.8V769.2H118.2V777.3H119.1V769.2H120.5V777.3H121.4V762.3H122.6V777.3H124.9V768.1H126.6V755.4H128.4V768.1H130.1V769.8H131.3V783.1H133V777.3H134.1V762.3H135.3V755.4H136.4V762.3H137.6V756.5H138.7V768.1H140V732.7H140.6V768.1H141.6V768.1H142.8V756.5H143.9V745H144.5V732.7H145.8V757.1H148V766.1H149.8V761.6H151.6V770.6H153.3V732.7H155V757.1H158.3V768.4H159.9V752.6H160.8V717.7H162.5V732.7H164.8V752.6H166.7V745.9H168.2V759.4H169.4V732.7H171.1V752.6H173.4V717.7H175.2V732.7H177.5V757.1H180.2V766.1H181.2V745.9H182.1V716.5H182.7V693.5H183.8V690H185V693.5H186.1V724.6H187.3V725.8H188.4V717.7H189.6V710.8H190.2V702.5H193.1V712.1H194.4V723.3H196V702.5H198.8V680H200V672.5H201.1V688H202.3V732.3H204.3V700H205.2V688H206V658H207.5V672H208.6V695H209.1V710.4H210.1V731.1H211.8V717.3H213.6V747.8H215.9V732.9H218.8V751.9H220.3V761.1H222.4V769.7H223.9V782.5H225.6V756.8H227.4V769.7H228.8V795.3H231V799.6H233.1V812.4H235.3V799.6H236.8V784.6H238.5V812.4H240.2V799.6H241.7V814.5H243.8V799.6H245.3V814.5H248.5V814.5H249.1V829.5V829.3H91.5Z" fill="#e30000" stroke="#1e0000" stroke-width="0.9" stroke-linejoin="miter"/>
<path d="M34.5,829.5H34.5V784H36.6V769H38.9V782.7H41.2V755H43.5V771H44.7V753.8H46.4V734.2H48.1V736.5H49.3V725H50.3V718.8H51.4V730.1H53V745.9H54.8V734.6H57V725.6H59.3V721.1H61.5V707.6H61.7V695.4H63V695.4H63.5V716.1H64.6V730H66.3V725H71.5V680.4H72.7V680.4H73.8V697.7H75V704.6H76.7V697.7H78.5V680.4H81.3V685H83.1V700H84.8V716.1H86V708H87.1V680.4H92.3V702.3H93.5V716H94V732.7H95.8V704.6H96.9V696.5H97.5V732.7H98.5V696H99.5V732.7H100.5V696H101.5V732.7H102.7V700H103.8V690H105V700H105.5V720H107.3V732.7H110.2V748H113.1V718.8H114.2V750H115.7V753H121.4V735H122.6V754H131.8V740H132.7V717.7H133.8V750H137.6V764.6H140V760H144V732.7H146.9V746.5H149.8V775.1H150.9V786.4H152.7V732.7H156.1V732.7H157.3V750H157.7V763.9H159.9V766.1H162.2V775.1H164.4V784.1H166.7V793.2H168.9V797.7H171.2V793.2H173.4V802.2H175.7V797.7H177.9V820.2H180.2V802.2H182.4V811.2H184.7V815.7H186.9V820.2H189.2V827H200V829.5" fill="none" stroke="#2fe02f" stroke-width="1" stroke-opacity="0.85"/>
<path d="M33,829.5H33V663H33.6V663H33.6V797.7H35.6V806.7H36.8V797.7H39V793.2H40.1V782.7H41.2V770H43V778H44.1V763.1H45.8V759.6H47.6V751.5H48.7V743.5H50.5V751.5H51.6V761.9H52.8V745.8H53.9V733.1H56.2V745.8H57.4V752.7H58.5V745.8H59.7V740H60.8V728.5H61.7V725.4H62.3V718.4H65.2V713.8H66.3V703.4H69.2V716.1H70.4V725.4H71.5V710.4H72.1V695.4H73.8V710.4H75V716.1H76.1V702.3H77.3V695.4H78.5V693.1H80.8V687.3H81.9V682.7H83.1V685H84.2V690.8H85.4V695.4H86.5V703.4H87.7V695.4H90V688.5H92.3V701.5H93.5V709.6H95.2V703.8H96.9V695.8H99.2V690H101.5V695.8H103.3V690H105V701.5H107.3V695.8H110.2V702.7H111.3V711.9H112.5V714.2H113.6V696.9H114.8V715.4H116V696.9H117.1V688H117.7V673.5H118.8V690H120V708.5H121.1V723.4H122.3V711.9H125.2V696.9H126.3V710.8H127.5V723.4H129.2V711.9H130.9V703.8H132.1V708.5H133.8V695.8H135V703.8H136.1V716.5H137.3V711.9H139V709.6H140.8V720H141.9V723.4H142.9V709.6H144V702.7H145.8V710.8H146.9V722.3H148.1V729.2H149.2V733.8H151V725.8H152.1V730H153.3V736.1H154.4V739.6H156.1V744.2H157.3V750H157.7V757.1H159.2V761.6H161V766.1H162.8V770.6H164.4V779.6H166V784.1H167.8V788.6H169.6V793.2H171.2V797.7H172.7V802.2H174.5V806.7H176.4V811.2H177.9V817.9H180.2V820.2H182.4V824.7H184.7V817.9H186.9V822.4H190.3V829.5H192.6V824H194V829.5H196V824H199.3V829.5H210V829.5" fill="none" stroke="#3434cc" stroke-width="1" stroke-opacity="0.85"/>
<path d="M33,643.5H427.3V829.3" fill="none" stroke="#6a6a6a" stroke-width="1.4"/>
<line x1="33" y1="643" x2="33" y2="830.1" stroke="#15156a" stroke-width="1.8"/>
<line x1="33" y1="829.3" x2="428" y2="829.3" stroke="#1a1a7a" stroke-width="1.6"/>
<line x1="29.8" y1="829.3" x2="33" y2="829.3" stroke="#333" stroke-width="1"/>
<text x="27.9" y="834.1" font-size="10" text-anchor="end" textLength="3.9" lengthAdjust="spacingAndGlyphs" fill="#1a1a1a" stroke="#1a1a1a" stroke-width="0.4">0</text>
<line x1="31.4" y1="821.87" x2="33" y2="821.87" stroke="#333" stroke-width="1"/>
<line x1="31.4" y1="814.44" x2="33" y2="814.44" stroke="#333" stroke-width="1"/>
<line x1="31.4" y1="807" x2="33" y2="807" stroke="#333" stroke-width="1"/>
<line x1="31.4" y1="799.57" x2="33" y2="799.57" stroke="#333" stroke-width="1"/>
<line x1="29.8" y1="792.14" x2="33" y2="792.14" stroke="#333" stroke-width="1"/>
<text x="27.9" y="796.94" font-size="10" text-anchor="end" textLength="3.9" lengthAdjust="spacingAndGlyphs" fill="#1a1a1a" stroke="#1a1a1a" stroke-width="0.4">5</text>
<line x1="31.4" y1="784.71" x2="33" y2="784.71" stroke="#333" stroke-width="1"/>
<line x1="31.4" y1="777.28" x2="33" y2="777.28" stroke="#333" stroke-width="1"/>
<line x1="31.4" y1="769.84" x2="33" y2="769.84" stroke="#333" stroke-width="1"/>
<line x1="31.4" y1="762.41" x2="33" y2="762.41" stroke="#333" stroke-width="1"/>
<line x1="29.8" y1="754.98" x2="33" y2="754.98" stroke="#333" stroke-width="1"/>
<text x="27.9" y="759.78" font-size="10" text-anchor="end" textLength="7.8" lengthAdjust="spacingAndGlyphs" fill="#1a1a1a" stroke="#1a1a1a" stroke-width="0.4">10</text>
<line x1="31.4" y1="747.55" x2="33" y2="747.55" stroke="#333" stroke-width="1"/>
<line x1="31.4" y1="740.12" x2="33" y2="740.12" stroke="#333" stroke-width="1"/>
<line x1="31.4" y1="732.68" x2="33" y2="732.68" stroke="#333" stroke-width="1"/>
<line x1="31.4" y1="725.25" x2="33" y2="725.25" stroke="#333" stroke-width="1"/>
<line x1="29.8" y1="717.82" x2="33" y2="717.82" stroke="#333" stroke-width="1"/>
<text x="27.9" y="722.62" font-size="10" text-anchor="end" textLength="7.8" lengthAdjust="spacingAndGlyphs" fill="#1a1a1a" stroke="#1a1a1a" stroke-width="0.4">15</text>
<line x1="31.4" y1="710.39" x2="33" y2="710.39" stroke="#333" stroke-width="1"/>
<line x1="31.4" y1="702.96" x2="33" y2="702.96" stroke="#333" stroke-width="1"/>
<line x1="31.4" y1="695.52" x2="33" y2="695.52" stroke="#333" stroke-width="1"/>
<line x1="31.4" y1="688.09" x2="33" y2="688.09" stroke="#333" stroke-width="1"/>
<line x1="29.8" y1="680.66" x2="33" y2="680.66" stroke="#333" stroke-width="1"/>
<text x="27.9" y="685.46" font-size="10" text-anchor="end" textLength="7.8" lengthAdjust="spacingAndGlyphs" fill="#1a1a1a" stroke="#1a1a1a" stroke-width="0.4">20</text>
<line x1="31.4" y1="673.23" x2="33" y2="673.23" stroke="#333" stroke-width="1"/>
<line x1="31.4" y1="665.8" x2="33" y2="665.8" stroke="#333" stroke-width="1"/>
<line x1="31.4" y1="658.36" x2="33" y2="658.36" stroke="#333" stroke-width="1"/>
<line x1="31.4" y1="650.93" x2="33" y2="650.93" stroke="#333" stroke-width="1"/>
<line x1="29.8" y1="643.5" x2="33" y2="643.5" stroke="#333" stroke-width="1"/>
<text x="27.9" y="648.3" font-size="10" text-anchor="end" textLength="7.8" lengthAdjust="spacingAndGlyphs" fill="#1a1a1a" stroke="#1a1a1a" stroke-width="0.4">25</text>
<line x1="62.67" y1="829.3" x2="62.67" y2="831.3" stroke="#333" stroke-width="0.9"/>
<line x1="80.03" y1="829.3" x2="80.03" y2="831.3" stroke="#333" stroke-width="0.9"/>
<line x1="92.35" y1="829.3" x2="92.35" y2="831.3" stroke="#333" stroke-width="0.9"/>
<line x1="101.9" y1="829.3" x2="101.9" y2="831.3" stroke="#333" stroke-width="0.9"/>
<line x1="109.71" y1="829.3" x2="109.71" y2="831.3" stroke="#333" stroke-width="0.9"/>
<line x1="116.31" y1="829.3" x2="116.31" y2="831.3" stroke="#333" stroke-width="0.9"/>
<line x1="122.02" y1="829.3" x2="122.02" y2="831.3" stroke="#333" stroke-width="0.9"/>
<line x1="127.06" y1="829.3" x2="127.06" y2="831.3" stroke="#333" stroke-width="0.9"/>
<line x1="161.25" y1="829.3" x2="161.25" y2="831.3" stroke="#333" stroke-width="0.9"/>
<line x1="178.61" y1="829.3" x2="178.61" y2="831.3" stroke="#333" stroke-width="0.9"/>
<line x1="190.92" y1="829.3" x2="190.92" y2="831.3" stroke="#333" stroke-width="0.9"/>
<line x1="200.48" y1="829.3" x2="200.48" y2="831.3" stroke="#333" stroke-width="0.9"/>
<line x1="208.28" y1="829.3" x2="208.28" y2="831.3" stroke="#333" stroke-width="0.9"/>
<line x1="214.88" y1="829.3" x2="214.88" y2="831.3" stroke="#333" stroke-width="0.9"/>
<line x1="220.6" y1="829.3" x2="220.6" y2="831.3" stroke="#333" stroke-width="0.9"/>
<line x1="225.64" y1="829.3" x2="225.64" y2="831.3" stroke="#333" stroke-width="0.9"/>
<line x1="259.82" y1="829.3" x2="259.82" y2="831.3" stroke="#333" stroke-width="0.9"/>
<line x1="277.18" y1="829.3" x2="277.18" y2="831.3" stroke="#333" stroke-width="0.9"/>
<line x1="289.5" y1="829.3" x2="289.5" y2="831.3" stroke="#333" stroke-width="0.9"/>
<line x1="299.05" y1="829.3" x2="299.05" y2="831.3" stroke="#333" stroke-width="0.9"/>
<line x1="306.86" y1="829.3" x2="306.86" y2="831.3" stroke="#333" stroke-width="0.9"/>
<line x1="313.46" y1="829.3" x2="313.46" y2="831.3" stroke="#333" stroke-width="0.9"/>
<line x1="319.17" y1="829.3" x2="319.17" y2="831.3" stroke="#333" stroke-width="0.9"/>
<line x1="324.21" y1="829.3" x2="324.21" y2="831.3" stroke="#333" stroke-width="0.9"/>
<line x1="358.4" y1="829.3" x2="358.4" y2="831.3" stroke="#333" stroke-width="0.9"/>
<line x1="375.76" y1="829.3" x2="375.76" y2="831.3" stroke="#333" stroke-width="0.9"/>
<line x1="388.07" y1="829.3" x2="388.07" y2="831.3" stroke="#333" stroke-width="0.9"/>
<line x1="397.63" y1="829.3" x2="397.63" y2="831.3" stroke="#333" stroke-width="0.9"/>
<line x1="405.43" y1="829.3" x2="405.43" y2="831.3" stroke="#333" stroke-width="0.9"/>
<line x1="412.03" y1="829.3" x2="412.03" y2="831.3" stroke="#333" stroke-width="0.9"/>
<line x1="417.75" y1="829.3" x2="417.75" y2="831.3" stroke="#333" stroke-width="0.9"/>
<line x1="422.79" y1="829.3" x2="422.79" y2="831.3" stroke="#333" stroke-width="0.9"/>
<line x1="33" y1="829.3" x2="33" y2="832.3" stroke="#333" stroke-width="1"/>
<text x="30.8" y="840.9" font-size="10" textLength="7.8" lengthAdjust="spacingAndGlyphs" fill="#1a1a1a" stroke="#1a1a1a" stroke-width="0.4">10</text>
<text x="39.5" y="836.5" font-size="5" fill="#222" stroke="#222" stroke-width="0.2">0</text>
<line x1="131.57" y1="829.3" x2="131.57" y2="832.3" stroke="#333" stroke-width="1"/>
<text x="129.6" y="840.9" font-size="10" textLength="7.8" lengthAdjust="spacingAndGlyphs" fill="#1a1a1a" stroke="#1a1a1a" stroke-width="0.4">10</text>
<text x="138.3" y="836.5" font-size="5" fill="#222" stroke="#222" stroke-width="0.2">1</text>
<line x1="230.15" y1="829.3" x2="230.15" y2="832.3" stroke="#333" stroke-width="1"/>
<text x="227.8" y="840.9" font-size="10" textLength="7.8" lengthAdjust="spacingAndGlyphs" fill="#1a1a1a" stroke="#1a1a1a" stroke-width="0.4">10</text>
<text x="236.5" y="836.5" font-size="5" fill="#222" stroke="#222" stroke-width="0.2">2</text>
<line x1="328.73" y1="829.3" x2="328.73" y2="832.3" stroke="#333" stroke-width="1"/>
<text x="325.8" y="840.9" font-size="10" textLength="7.8" lengthAdjust="spacingAndGlyphs" fill="#1a1a1a" stroke="#1a1a1a" stroke-width="0.4">10</text>
<text x="334.5" y="836.5" font-size="5" fill="#222" stroke="#222" stroke-width="0.2">3</text>
<line x1="427.3" y1="829.3" x2="427.3" y2="832.3" stroke="#333" stroke-width="1"/>
<text x="423.7" y="840.9" font-size="10" textLength="7.8" lengthAdjust="spacingAndGlyphs" fill="#1a1a1a" stroke="#1a1a1a" stroke-width="0.4">10</text>
<text x="432.4" y="836.5" font-size="5" fill="#222" stroke="#222" stroke-width="0.2">4</text>
<text transform="translate(19.2,716.92) rotate(-90)" font-size="14.6" text-anchor="middle" textLength="60.8" lengthAdjust="spacingAndGlyphs" fill="#111" stroke="#111" stroke-width="0.35">Cell Counts</text>
<line x1="161.2" y1="663.7" x2="427.3" y2="663.7" stroke="#6e6e6e" stroke-width="1.5"/>
<line x1="161.2" y1="657.3" x2="161.2" y2="670" stroke="#333" stroke-width="1.5"/>
<text x="296.1" y="671.7" font-size="7.6" textLength="8.2" lengthAdjust="spacingAndGlyphs" fill="#333" stroke="#333" stroke-width="0.15">M1</text>
<text x="294" y="692.8" font-size="13.2" textLength="14.2" lengthAdjust="spacingAndGlyphs" fill="#111" stroke="#111" stroke-width="0.3">Mk</text>
<rect x="442.3" y="22.3" width="15.9" height="15.3" fill="#0a0af2"/>
<text x="462.4" y="34" font-size="12.6" textLength="44.2" lengthAdjust="spacingAndGlyphs" fill="#111" stroke="#111" stroke-width="0.3">NS + Qn</text>
<rect x="442.3" y="53.9" width="15.9" height="15.3" fill="#05fa12"/>
<text x="462.4" y="65.6" font-size="12.6" textLength="52.6" lengthAdjust="spacingAndGlyphs" fill="#111" stroke="#111" stroke-width="0.3">QITS - Qn</text>
<rect x="442.3" y="85.5" width="15.9" height="15.3" fill="#e60008"/>
<text x="462.4" y="97.2" font-size="12.6" textLength="55" lengthAdjust="spacingAndGlyphs" fill="#111" stroke="#111" stroke-width="0.3">QITS + Qn</text>
<line x1="37" y1="855.6" x2="161.5" y2="855.6" stroke="#111" stroke-width="1.3"/>
<line x1="273" y1="855.6" x2="410" y2="855.6" stroke="#111" stroke-width="1.3"/>
<polygon points="408,850.5 428,855.3 408,860.2" fill="#000"/>
<text x="172.3" y="859.7" font-size="14.2" textLength="91.4" lengthAdjust="spacingAndGlyphs" fill="#111" stroke="#111" stroke-width="0.3">Log Fluorescence</text>
</svg></body></html>
